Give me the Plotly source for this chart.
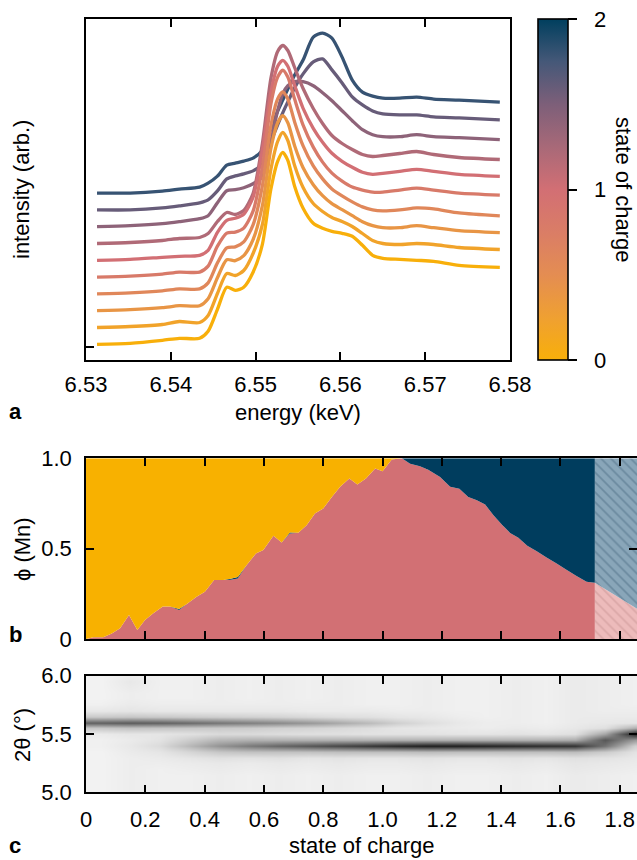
import plotly.graph_objects as go
from plotly.colors import sample_colorscale

W, H = 637, 860

# ---------------- panel a : XANES spectra ----------------
energy_kev = [6.5313, 6.5352, 6.5390, 6.5410, 6.5434, 6.5444, 6.5455, 6.5466, 6.5476, 6.5486,
              6.5497, 6.5508, 6.5518, 6.5526, 6.5532, 6.5538, 6.5546, 6.5556, 6.5568, 6.5579,
              6.5590, 6.5602, 6.5614, 6.5626, 6.5638, 6.5650, 6.5670, 6.5690, 6.5710, 6.5740,
              6.5788]
spectra_soc = [0.0, 0.2, 0.4, 0.6, 0.8, 1.0, 1.2, 1.4, 1.6, 1.8]

intensity_soc_00 = [0, 1, 4, 6, 6, 13, 35, 57, 54, 57, 72, 100, 155, 183, 192, 184, 158, 136, 121, 116,
                    113, 111, 108, 99, 89, 86, 85, 84, 83, 79, 77]
intensity_soc_02 = [0, 1, 3, 6, 5, 12, 34, 54, 52, 57, 74, 103, 158, 186, 195, 187, 162, 140, 124, 116,
                    110, 106, 101, 94, 87, 84, 83, 84, 83, 80, 78]
intensity_soc_04 = [0, 1, 3, 5, 5, 12, 33, 51, 50, 55, 71, 105, 162, 188, 195, 188, 165, 143, 126, 115,
                    107, 101, 95, 89, 85, 83, 83, 85, 83, 80, 78]
intensity_soc_06 = [0, 1, 3, 5, 5, 11, 31, 46, 47, 52, 69, 108, 168, 195, 202, 195, 172, 148, 128, 115,
                    105, 98, 92, 87, 84, 83, 84, 86, 85, 81, 78]
intensity_soc_08 = [0, 1, 3, 5, 5, 11, 31, 44, 45, 49, 66, 110, 173, 200, 207, 200, 178, 152, 130, 115,
                    104, 96, 90, 87, 85, 85, 87, 89, 87, 84, 82]
intensity_soc_10 = [0, 1, 3, 4, 5, 10, 28, 40, 42, 46, 63, 110, 168, 194, 200, 194, 175, 152, 132, 118,
                    107, 99, 93, 88, 86, 87, 89, 91, 89, 86, 84]
intensity_soc_12 = [0, 1, 3, 5, 6, 10, 22, 31, 29, 33, 50, 100, 165, 192, 198, 193, 176, 155, 135, 120,
                    108, 100, 94, 89, 87, 88, 90, 92, 89, 86, 84]
intensity_soc_14 = [0, 1, 3, 5, 8, 11, 24, 36, 37, 39, 43, 50, 85, 116, 133, 141, 145, 145, 141, 134,
                    126, 116, 106, 97, 92, 90, 90, 92, 90, 89, 87]
intensity_soc_16 = [0, 0, 2, 4, 7, 10, 19, 31, 34, 36, 39, 46, 68, 85, 97, 108, 122, 136, 148, 151,
                    140, 127, 113, 105, 99, 96, 95, 95, 93, 92, 90]
intensity_soc_18 = [0, 0, 2, 4, 6, 10, 17, 28, 30, 32, 35, 43, 64, 82, 93, 104, 118, 133, 156, 160,
                    155, 136, 113, 101, 97, 95, 95, 96, 94, 93, 91]
spectra = [intensity_soc_00, intensity_soc_02, intensity_soc_04, intensity_soc_06, intensity_soc_08,
           intensity_soc_10, intensity_soc_12, intensity_soc_14, intensity_soc_16, intensity_soc_18]

BASE = 2.7       # pre-edge level of the lowest trace
OFFSET = 16.8    # vertical stacking offset between traces

soc_colorscale = [[0.0, '#F8AF0A'], [0.125, '#EFA032'], [0.25, '#E48D52'], [0.375, '#DA7D66'],
                  [0.5, '#D26F74'], [0.625, '#A86978'], [0.75, '#7D5F79'], [0.875, '#455878'],
                  [1.0, '#003F5E']]

# ---------------- panel b : phase fractions ----------------
soc_phase = [0.000, 0.025, 0.058, 0.087, 0.115, 0.145, 0.173, 0.199, 0.227, 0.259, 0.283, 0.314,
             0.340, 0.373, 0.401, 0.432, 0.463, 0.488, 0.512, 0.542, 0.573, 0.598, 0.632, 0.660,
             0.688, 0.716, 0.744, 0.772, 0.800, 0.829, 0.857, 0.888, 0.915, 0.944, 0.975, 1.000,
             1.031, 1.065, 1.093, 1.126, 1.154, 1.194, 1.228, 1.259, 1.289, 1.318, 1.346, 1.374,
             1.402, 1.430, 1.458, 1.488, 1.520, 1.553, 1.587, 1.620, 1.654, 1.688, 1.716]
phase_mid = [0.000, 0.010, 0.010, 0.030, 0.060, 0.133, 0.050, 0.105, 0.142, 0.180, 0.180, 0.160,
             0.193, 0.234, 0.262, 0.326, 0.326, 0.328, 0.335, 0.409, 0.473, 0.492, 0.571, 0.534,
             0.584, 0.588, 0.630, 0.694, 0.722, 0.786, 0.842, 0.888, 0.855, 0.888, 0.943, 0.928,
             0.994, 1.000, 0.970, 0.956, 0.937, 0.897, 0.842, 0.832, 0.786, 0.768, 0.744, 0.685,
             0.634, 0.587, 0.560, 0.516, 0.486, 0.451, 0.418, 0.383, 0.348, 0.317, 0.311]
phase_charged = [0.000, 0.000, 0.000, 0.000, 0.000, 0.000, 0.000, 0.000, 0.000, 0.000, 0.000, 0.006,
                 0.000, 0.000, 0.000, 0.000, 0.000, 0.006, 0.008, 0.000, 0.000, 0.000, 0.000, 0.000,
                 0.006, 0.000, 0.000, 0.000, 0.000, 0.000, 0.000, 0.000, 0.000, 0.000, 0.000, 0.000,
                 0.000, 0.000, 0.030, 0.044, 0.063, 0.103, 0.158, 0.168, 0.214, 0.232, 0.256, 0.315,
                 0.366, 0.413, 0.440, 0.484, 0.514, 0.549, 0.582, 0.617, 0.652, 0.683, 0.689]
phase_pristine = [round(1.0 - m - c, 3) for m, c in zip(phase_mid, phase_charged)]

# extrapolated (hatched) region
soc_extrap = [1.716, 1.860]
phase_mid_extrap = [0.311, 0.165]
phase_charged_extrap = [0.689, 0.835]

# ---------------- panel c : diffraction map ----------------
soc_xrd = [0.05, 0.15, 0.25, 0.35, 0.45, 0.55, 0.65, 0.75, 0.85, 0.95, 1.05, 1.15, 1.25, 1.35,
           1.45, 1.55, 1.65, 1.75, 1.85]
two_theta = [5.00, 5.05, 5.10, 5.15, 5.20, 5.25, 5.30, 5.35, 5.40, 5.45, 5.50, 5.55, 5.60, 5.65,
             5.70, 5.75, 5.80, 5.85, 5.90, 5.95, 6.00]
xrd_columns = [
    [0.05, 0.05, 0.05, 0.05, 0.05, 0.05, 0.05, 0.05, 0.06, 0.06, 0.08, 0.22, 0.62, 0.21, 0.09, 0.06, 0.05, 0.05, 0.05, 0.05, 0.05],
    [0.07, 0.07, 0.07, 0.07, 0.07, 0.07, 0.07, 0.08, 0.09, 0.08, 0.10, 0.24, 0.64, 0.22, 0.10, 0.08, 0.07, 0.07, 0.08, 0.09, 0.07],
    [0.06, 0.06, 0.06, 0.06, 0.06, 0.07, 0.08, 0.10, 0.14, 0.11, 0.10, 0.23, 0.62, 0.21, 0.09, 0.07, 0.06, 0.06, 0.06, 0.06, 0.06],
    [0.06, 0.06, 0.06, 0.06, 0.07, 0.08, 0.10, 0.16, 0.28, 0.20, 0.12, 0.22, 0.58, 0.20, 0.09, 0.07, 0.06, 0.06, 0.06, 0.06, 0.06],
    [0.07, 0.07, 0.07, 0.07, 0.08, 0.09, 0.12, 0.22, 0.42, 0.28, 0.14, 0.21, 0.54, 0.19, 0.09, 0.07, 0.07, 0.07, 0.07, 0.07, 0.07],
    [0.06, 0.06, 0.06, 0.06, 0.07, 0.08, 0.11, 0.24, 0.52, 0.30, 0.14, 0.20, 0.50, 0.18, 0.09, 0.07, 0.06, 0.06, 0.06, 0.06, 0.06],
    [0.07, 0.07, 0.07, 0.07, 0.08, 0.09, 0.12, 0.24, 0.60, 0.30, 0.13, 0.18, 0.46, 0.17, 0.09, 0.07, 0.07, 0.07, 0.07, 0.07, 0.07],
    [0.06, 0.06, 0.06, 0.06, 0.07, 0.08, 0.10, 0.24, 0.66, 0.30, 0.12, 0.17, 0.41, 0.15, 0.08, 0.07, 0.06, 0.06, 0.06, 0.06, 0.06],
    [0.07, 0.07, 0.07, 0.07, 0.08, 0.09, 0.11, 0.25, 0.72, 0.30, 0.12, 0.15, 0.34, 0.13, 0.08, 0.07, 0.07, 0.07, 0.07, 0.07, 0.07],
    [0.06, 0.06, 0.06, 0.06, 0.07, 0.08, 0.10, 0.25, 0.78, 0.30, 0.11, 0.13, 0.27, 0.12, 0.08, 0.06, 0.06, 0.06, 0.06, 0.06, 0.06],
    [0.06, 0.06, 0.06, 0.06, 0.07, 0.08, 0.10, 0.25, 0.84, 0.30, 0.11, 0.10, 0.19, 0.10, 0.07, 0.06, 0.06, 0.06, 0.06, 0.06, 0.06],
    [0.07, 0.07, 0.07, 0.07, 0.08, 0.09, 0.11, 0.26, 0.88, 0.30, 0.11, 0.09, 0.13, 0.09, 0.07, 0.07, 0.07, 0.07, 0.07, 0.07, 0.07],
    [0.06, 0.06, 0.06, 0.06, 0.07, 0.08, 0.10, 0.25, 0.88, 0.30, 0.10, 0.08, 0.09, 0.07, 0.06, 0.06, 0.06, 0.06, 0.06, 0.06, 0.06],
    [0.06, 0.06, 0.06, 0.06, 0.07, 0.08, 0.10, 0.25, 0.86, 0.30, 0.10, 0.07, 0.07, 0.06, 0.06, 0.06, 0.06, 0.06, 0.06, 0.06, 0.06],
    [0.07, 0.07, 0.07, 0.07, 0.08, 0.09, 0.11, 0.25, 0.84, 0.30, 0.11, 0.08, 0.07, 0.07, 0.07, 0.07, 0.07, 0.07, 0.07, 0.07, 0.07],
    [0.06, 0.06, 0.06, 0.06, 0.07, 0.08, 0.10, 0.25, 0.82, 0.30, 0.10, 0.07, 0.06, 0.06, 0.06, 0.06, 0.06, 0.06, 0.06, 0.06, 0.06],
    [0.08, 0.08, 0.08, 0.08, 0.09, 0.10, 0.12, 0.26, 0.80, 0.32, 0.12, 0.09, 0.08, 0.08, 0.08, 0.08, 0.08, 0.08, 0.08, 0.08, 0.08],
    [0.07, 0.07, 0.07, 0.07, 0.08, 0.09, 0.11, 0.20, 0.55, 0.66, 0.35, 0.12, 0.09, 0.08, 0.07, 0.07, 0.07, 0.07, 0.07, 0.07, 0.07],
    [0.06, 0.06, 0.06, 0.06, 0.07, 0.08, 0.09, 0.11, 0.18, 0.40, 0.88, 0.30, 0.10, 0.08, 0.07, 0.06, 0.06, 0.06, 0.06, 0.06, 0.06],
]
xrd_z = [list(row) for row in zip(*xrd_columns)]   # rows = 2theta, cols = soc

soc_ticks = [0, 0.2, 0.4, 0.6, 0.8, 1.0, 1.2, 1.4, 1.6, 1.8]
soc_tick_text = ['0', '0.2', '0.4', '0.6', '0.8', '1.0', '1.2', '1.4', '1.6', '1.8']
cbar_ticks = [0, 1, 2]
cbar_tick_text = ['\u00a0\u00a00', '\u00a0\u00a01', '\u00a0\u00a02']

# ---------------- colours ----------------
C_PRISTINE = '#F8B100'
C_MID = '#D27074'
C_CHARGED = '#003D5E'

fig = go.Figure()

# panel a traces (top traces drawn first)
line_colors = sample_colorscale(soc_colorscale, [s / 2.0 for s in spectra_soc])
for i in reversed(range(len(spectra))):
    fig.add_trace(go.Scatter(
        x=energy_kev, y=[BASE + i * OFFSET + v for v in spectra[i]],
        mode='lines', line=dict(color=line_colors[i], width=3.3, shape='spline', smoothing=0.7),
        xaxis='x', yaxis='y', showlegend=False, hoverinfo='skip'))

# colour bar
fig.add_trace(go.Scatter(
    x=[None], y=[None], mode='markers', xaxis='x', yaxis='y', showlegend=False, hoverinfo='skip',
    marker=dict(color=[0], cmin=0, cmax=2, colorscale=soc_colorscale, showscale=True,
                colorbar=dict(thickness=30, thicknessmode='pixels', len=341 / H, lenmode='fraction',
                              x=538 / W, xanchor='left', xpad=0, y=1 - 189.5 / H, yanchor='middle', ypad=0,
                              outlinewidth=1.6, outlinecolor='black',
                              tickvals=cbar_ticks, ticktext=cbar_tick_text, ticks='outside',
                              ticklen=9, tickwidth=2, tickcolor='black',
                              tickfont=dict(size=22, color='black')))))

# panel b stacked areas
for name, vals, col in [('mid', phase_mid, C_MID), ('charged', phase_charged, C_CHARGED),
                        ('pristine', phase_pristine, C_PRISTINE)]:
    fig.add_trace(go.Scatter(x=soc_phase, y=vals, mode='none', stackgroup='phase', fillcolor=col,
                             line=dict(width=0), xaxis='x2', yaxis='y2', showlegend=False,
                             hoverinfo='skip', name=name))
fig.add_trace(go.Scatter(x=soc_extrap, y=phase_mid_extrap, mode='none', stackgroup='extrap',
                         fillcolor='#EDBBBB', line=dict(width=0),
                         fillpattern=dict(shape='\\', bgcolor='#EDBBBB', fgcolor='#C99494',
                                          size=7, solidity=0.25),
                         xaxis='x2', yaxis='y2', showlegend=False, hoverinfo='skip'))
fig.add_trace(go.Scatter(x=soc_extrap, y=phase_charged_extrap, mode='none', stackgroup='extrap',
                         fillcolor='#89A6B9', line=dict(width=0),
                         fillpattern=dict(shape='\\', bgcolor='#89A6B9', fgcolor='#4E6E85',
                                          size=7, solidity=0.25),
                         xaxis='x2', yaxis='y2', showlegend=False, hoverinfo='skip'))

# panel c heatmap
fig.add_trace(go.Heatmap(x=soc_xrd, y=two_theta, z=xrd_z, zmin=0, zmax=1,
                         colorscale=[[0, '#FFFFFF'], [1, '#000000']], zsmooth='best',
                         showscale=False, xaxis='x3', yaxis='y3', hoverinfo='skip'))

axis_common = dict(showline=True, linewidth=1.6, linecolor='black', ticks='inside', ticklen=8,
                   tickwidth=2, tickcolor='black', showgrid=False, zeroline=False,
                   tickfont=dict(size=22, color='black'))

xa = [86 / W, 510 / W]
xb = [86 / W, 1.0]

fig.update_layout(
    width=W, height=H, margin=dict(l=0, r=0, t=0, b=0, pad=0, autoexpand=False), autosize=False,
    paper_bgcolor='white', plot_bgcolor='white',
    font=dict(family='Liberation Sans, Arial, Helvetica, sans-serif', size=22, color='black'),
    xaxis=dict(axis_common, domain=xa, anchor='y', range=[6.53, 6.58],
               tickvals=[6.53, 6.54, 6.55, 6.56, 6.57, 6.58],
               ticktext=['6.53', '6.54', '6.55', '6.56', '6.57', '6.58'],
               mirror='ticks', ticklabelstandoff=4),
    yaxis=dict(axis_common, domain=[1 - 360 / H, 1 - 19 / H], anchor='x', range=[-13, 328],
               tickvals=[0], showticklabels=False, mirror=True),
    xaxis2=dict(axis_common, domain=xb, anchor='y2', range=[0, 1.858], tickvals=soc_ticks,
                showticklabels=False, mirror='ticks'),
    yaxis2=dict(axis_common, domain=[1 - 639 / H, 1 - 458.3 / H], anchor='x2', range=[0, 1],
                tickvals=[0, 0.5, 1], ticktext=['0', '0.5', '1.0'], mirror='ticks',
                ticklabelstandoff=8),
    xaxis3=dict(axis_common, domain=xb, anchor='y3', range=[0, 1.858], tickvals=soc_ticks,
                ticktext=soc_tick_text, mirror='ticks', ticklabelstandoff=6),
    yaxis3=dict(axis_common, domain=[1 - 792.3 / H, 1 - 675.7 / H], anchor='x3', range=[5, 6],
                tickvals=[5, 5.5, 6], ticktext=['5.0', '5.5', '6.0'], mirror='ticks',
                ticklabelstandoff=8),
)


def ann(text, px, py, angle=0, size=22, bold=False):
    return dict(text=('<b>%s</b>' % text) if bold else text, x=px / W, y=1 - py / H,
                xref='paper', yref='paper', showarrow=False, xanchor='center', yanchor='middle',
                textangle=angle, font=dict(size=size, color='black'))


fig.update_layout(annotations=[
    ann('intensity (arb.)', 22, 190, angle=-90),
    ann('energy (keV)', 298, 412),
    ann('state of charge', 623, 190, angle=90),
    ann('ϕ (Mn)', 22, 549, angle=-90),
    ann('2θ (°)', 22, 735, angle=-90),
    ann('state of charge', 362, 845),
    ann('a', 15, 411, bold=True),
    ann('b', 15, 634, bold=True),
    ann('c', 15, 845, bold=True),
])

fig.write_html("out.html", config={'displayModeBar': False},
               post_script="document.body.style.margin='0';document.body.style.overflow='hidden';")
